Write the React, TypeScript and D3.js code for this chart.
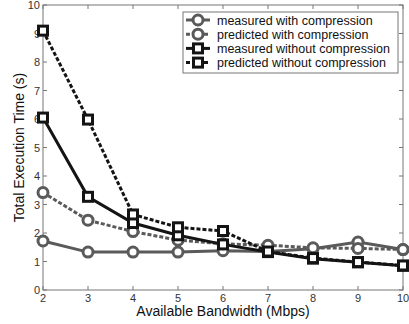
import React from 'react';
import * as d3 from 'd3';

const bandwidth = [2, 3, 4, 5, 6, 7, 8, 9, 10];
const measuredComp = [1.72, 1.33, 1.33, 1.33, 1.38, 1.35, 1.45, 1.68, 1.42];
const predictedComp = [3.42, 2.45, 2.05, 1.75, 1.62, 1.57, 1.48, 1.46, 1.42];
const measuredNoComp = [6.05, 3.27, 2.35, 1.92, 1.6, 1.33, 1.1, 0.97, 0.85];
const predictedNoComp = [9.1, 5.98, 2.65, 2.2, 2.07, 1.35, 1.12, 0.98, 0.86];
const yTicks = [0, 1, 2, 3, 4, 5, 6, 7, 8, 9, 10];

const SERIES = [
  { name: 'measured with compression', values: measuredComp, color: '#5a5a5a', dash: null, marker: 'circle' },
  { name: 'predicted with compression', values: predictedComp, color: '#5a5a5a', dash: '4,2', marker: 'circle' },
  { name: 'measured without compression', values: measuredNoComp, color: '#141414', dash: null, marker: 'square' },
  { name: 'predicted without compression', values: predictedNoComp, color: '#141414', dash: '4,2', marker: 'square' },
];

const FONT = '"Liberation Sans", Arial, Helvetica, sans-serif';

function Marker({ type, x, y, color }: { type: string; x: number; y: number; color: string }) {
  if (type === 'circle') {
    return <circle cx={x} cy={y} r={5} fill="white" stroke={color} strokeWidth={3} />;
  }
  return <rect x={x - 4.5} y={y - 4.5} width={9} height={9} fill="white" stroke={color} strokeWidth={3} />;
}

export default function App() {
  const width = 409;
  const height = 324;
  const margin = { top: 5, right: 6, bottom: 34, left: 43 };
  const x = d3.scaleLinear().domain([2, 10]).range([margin.left, width - margin.right]);
  const y = d3.scaleLinear().domain([0, 10]).range([height - margin.bottom, margin.top]);
  const [x0, x1] = x.range();
  const [y0, y1] = y.range();

  const line = d3.line<number>().x((_, i) => x(bandwidth[i])).y((d) => y(d));

  return (
    <svg width={width} height={height} style={{ position: 'absolute', left: 0, top: 0, background: 'white' }}
      fontFamily={FONT}>
      <rect x={x0} y={y1} width={x1 - x0} height={y0 - y1} fill="white" stroke="#777" strokeWidth={1} />

      {/* ticks */}
      {bandwidth.map((b) => (
        <g key={`xt${b}`}>
          <line x1={x(b)} x2={x(b)} y1={y0} y2={y0 - 4} stroke="#777" />
          <line x1={x(b)} x2={x(b)} y1={y1} y2={y1 + 4} stroke="#777" />
          <text x={x(b)} y={y0 + 12} fontSize={11} textAnchor="middle" fill="#333">{b}</text>
        </g>
      ))}
      {yTicks.map((t) => (
        <g key={`yt${t}`}>
          <line x1={x0} x2={x0 + 4} y1={y(t)} y2={y(t)} stroke="#777" />
          <line x1={x1} x2={x1 - 4} y1={y(t)} y2={y(t)} stroke="#777" />
          <text x={x0 - 3} y={y(t) + 4} fontSize={11} textAnchor="end" fill="#333">{t}</text>
        </g>
      ))}

      {/* series */}
      {SERIES.map((s) => (
        <g key={s.name}>
          <path d={line(s.values) ?? ''} fill="none" stroke={s.color} strokeWidth={3}
            strokeDasharray={s.dash ?? undefined} />
          {s.values.map((v, i) => (
            <Marker key={i} type={s.marker} x={x(bandwidth[i])} y={y(v)} color={s.color} />
          ))}
        </g>
      ))}

      {/* legend */}
      <g>
        <rect x={183} y={12} width={215} height={61} fill="white" stroke="#777" />
        {SERIES.map((s, i) => {
          const ly = 20 + i * 14.2;
          return (
            <g key={`lg${s.name}`}>
              <line x1={186} x2={210} y1={ly} y2={ly} stroke={s.color} strokeWidth={3}
                strokeDasharray={s.dash ?? undefined} />
              <Marker type={s.marker} x={198} y={ly} color={s.color} />
              <text x={217} y={ly + 4.5} fontSize={12.5} fill="#111">{s.name}</text>
            </g>
          );
        })}
      </g>

      <text x={(x0 + x1) / 2} y={316} fontSize={14} textAnchor="middle" fill="#111">Available Bandwidth (Mbps)</text>
      <text transform={`translate(24,${(y0 + y1) / 2}) rotate(-90)`} fontSize={14} textAnchor="middle" fill="#111">
        Total Execution Time (s)
      </text>
    </svg>
  );
}
